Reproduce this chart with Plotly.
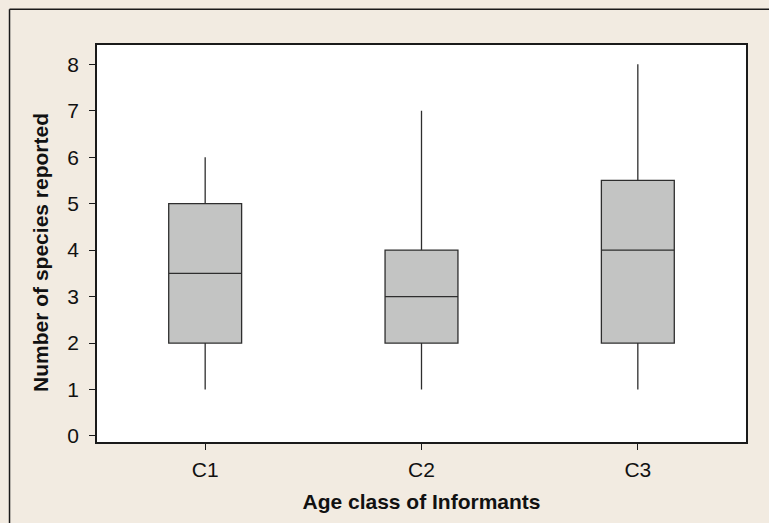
import plotly.graph_objects as go

# Age classes and five-number summaries of species reported
age_classes = ["C1", "C2", "C3"]
minimum = [1, 1, 1]
lower_quartile = [2, 2, 2]
median = [3.5, 3, 4]
upper_quartile = [5, 4, 5.5]
maximum = [6, 7, 8]
y_ticks = [0, 1, 2, 3, 4, 5, 6, 7, 8]

W, H = 769, 523
L, R, T, B = 96.5, 23.3, 44.7, 80.5
plot_w = W - L - R
plot_h = H - T - B

fig = go.Figure()
fig.add_trace(go.Box(
    x=age_classes,
    q1=lower_quartile,
    median=median,
    q3=upper_quartile,
    lowerfence=minimum,
    upperfence=maximum,
    boxpoints=False,
    whiskerwidth=0,
    width=0.337,
    fillcolor="#c3c4c3",
    line=dict(color="#2e2e2e", width=1.3),
    showlegend=False,
    hoverinfo="skip",
))

font = "Liberation Sans, Arial, sans-serif"

# Pixel -> paper coordinate helpers
fx = lambda px: (px - L) / plot_w
fy = lambda py: 1 - (py - T) / plot_h

# Outer frame (left and top edges of the panel)
fig.add_shape(type="line", xref="paper", yref="paper",
              x0=fx(9), x1=fx(9), y0=fy(9), y1=fy(H + 5),
              line=dict(color="#1a1a1a", width=1.5))
fig.add_shape(type="line", xref="paper", yref="paper",
              x0=fx(9), x1=fx(W + 5), y0=fy(9), y1=fy(9),
              line=dict(color="#1a1a1a", width=1.5))

# Y-axis title
fig.add_annotation(
    xref="paper", yref="paper", x=fx(40), y=fy(252.5),
    text="<b>Number of species reported</b>", textangle=-90,
    showarrow=False, xanchor="center", yanchor="middle",
    font=dict(size=21, family=font, color="#111111"),
)

fig.update_layout(
    width=W, height=H,
    margin=dict(l=L, r=R, t=T, b=B, pad=0),
    paper_bgcolor="#f2ebe1",
    plot_bgcolor="#ffffff",
    font=dict(family=font, color="#111111", size=21),
    xaxis=dict(
        range=[-0.5, 2.5],
        showline=True, linecolor="#1a1a1a", linewidth=1.5, mirror=True,
        ticks="outside", ticklen=6, tickwidth=1.2, tickcolor="#1a1a1a",
        showgrid=False, zeroline=False,
        tickfont=dict(size=21), ticklabelstandoff=2,
        title=dict(text="<b>Age class of Informants</b>",
                   font=dict(size=21), standoff=14),
    ),
    yaxis=dict(
        range=[-0.13, 8.415],
        tickvals=y_ticks,
        showline=True, linecolor="#1a1a1a", linewidth=1.5, mirror=True,
        ticks="outside", ticklen=6, tickwidth=1.2, tickcolor="#1a1a1a",
        showgrid=False, zeroline=False,
        tickfont=dict(size=21), ticklabelstandoff=6,
    ),
)

fig.write_html("out.html")
